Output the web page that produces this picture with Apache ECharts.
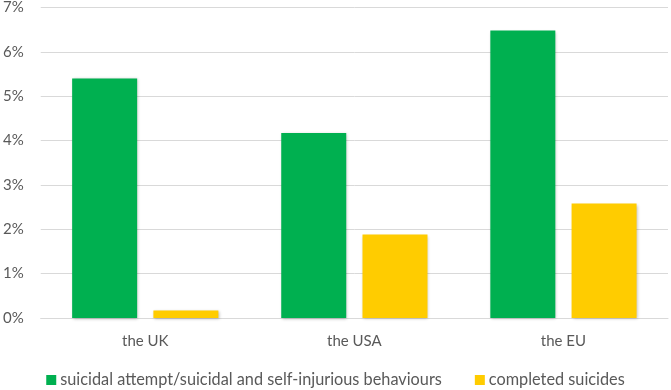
<!DOCTYPE html>
<html><head><meta charset="utf-8">
<script src="https://cdn.jsdelivr.net/npm/echarts@6/dist/echarts.min.js"></script>
<style>html,body{margin:0;padding:0;background:#fff}#c{width:671px;height:390px}</style>
</head><body><div id="c"></div>
<script>
const categories = ['the UK', 'the USA', 'the EU'];
const attempts = [5.40, 4.17, 6.48];
const completed = [0.17, 1.88, 2.58];
const seriesNames = ['suicidal attempt/suicidal and self-injurious behaviours', 'completed suicides'];

const chart = echarts.init(document.getElementById('c'));
const font = 'Lato, "Open Sans", sans-serif';
const barStyle = c => ({color: c, shadowColor: 'rgba(0,0,0,0.25)', shadowBlur: 3, shadowOffsetX: 1, shadowOffsetY: 1});
chart.setOption({
  animation: false,
  textStyle: {fontFamily: font},
  grid: {left: 40, right: 3, top: 7, bottom: 72},
  legend: {
    top: 372, left: 'center', padding: 0, itemWidth: 10, itemHeight: 10, itemGap: 33,
    icon: 'rect',
    textStyle: {fontSize: 16.3, lineHeight: 16, color: '#595959', fontFamily: font, padding: [0, 0, 0, -1]},
    data: seriesNames
  },
  xAxis: {
    type: 'category', data: categories,
    axisLine: {lineStyle: {color: '#d9d9d9', width: 1}},
    axisTick: {show: false},
    axisLabel: {fontSize: 15, color: '#595959', margin: 16, fontFamily: font}
  },
  yAxis: {
    type: 'value', min: 0, max: 7, interval: 1,
    axisLabel: {formatter: v => v + '%', fontSize: 15, color: '#595959', margin: 17, fontFamily: font},
    splitLine: {lineStyle: {color: '#d9d9d9', width: 1}},
    axisLine: {show: false}, axisTick: {show: false}
  },
  series: [
    {name: seriesNames[0], type: 'bar', data: attempts, barWidth: 65, barGap: '25%', itemStyle: barStyle('#00B050')},
    {name: seriesNames[1], type: 'bar', data: completed, barWidth: 65, itemStyle: barStyle('#FFCC00')}
  ]
});
</script></body></html>
